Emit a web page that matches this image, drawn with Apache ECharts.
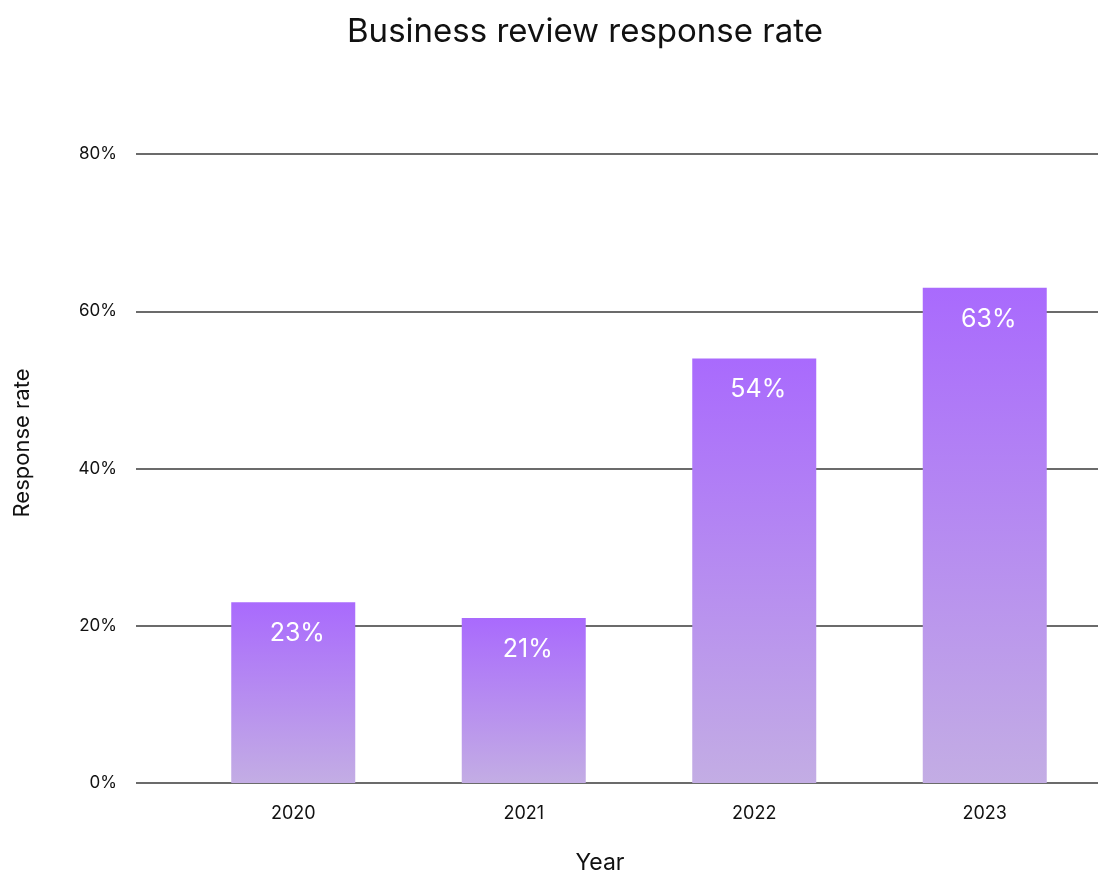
<!DOCTYPE html>
<html>
<head>
<meta charset="utf-8">
<style>
  html, body { margin: 0; padding: 0; background: #ffffff; }
  #chart { width: 1100px; height: 875px; }
</style>
<script src="https://cdn.jsdelivr.net/npm/echarts@6/dist/echarts.min.js"></script>
</head>
<body>
<div id="chart"></div>
<script>
// Response rate by year (percent)
const years = ['2020', '2021', '2022', '2023'];
const responseRates = [23, 21, 54, 63];
const yTicks = { min: 0, max: 80, interval: 20 };

const FONT = 'Inter, "Noto Sans", sans-serif';
const INK = '#111111';
const GRID_LINE = '#6b6b6b';

const barGradient = new echarts.graphic.LinearGradient(0, 0, 0, 1, [
  { offset: 0, color: '#a96afd' },
  { offset: 1, color: '#c3ade4' }
]);

const chart = echarts.init(document.getElementById('chart'), null, { renderer: 'canvas' });

chart.setOption({
  backgroundColor: '#ffffff',
  animation: false,
  title: {
    text: 'Business review response rate',
    left: 580,
    textAlign: 'center',
    top: 11,
    textStyle: { fontFamily: FONT, fontSize: 33, fontWeight: 'normal', color: INK }
  },
  grid: [
    // grid 0 carries the horizontal rules and the percent labels
    { left: 136, right: 2, top: 154, bottom: 92 },
    // grid 1 holds the bars and the year labels
    { left: 178, width: 924, top: 154, bottom: 92 }
  ],
  xAxis: [
    {
      gridIndex: 0, type: 'category', data: years, show: false
    },
    {
      gridIndex: 1, type: 'category', data: years,
      axisLine: { show: false },
      axisTick: { show: false },
      axisLabel: { color: INK, fontFamily: FONT, fontSize: 18, margin: 22 }
    }
  ],
  yAxis: [
    {
      gridIndex: 0, type: 'value',
      min: yTicks.min, max: yTicks.max, interval: yTicks.interval,
      axisLine: { show: false },
      axisTick: { show: false },
      axisLabel: { formatter: '{value}%', color: INK, fontFamily: FONT, fontSize: 17, margin: 19 },
      splitLine: { show: true, lineStyle: { color: GRID_LINE, width: 2 } }
    },
    {
      gridIndex: 1, type: 'value',
      min: yTicks.min, max: yTicks.max, interval: yTicks.interval,
      show: false,
      splitLine: { show: false }
    }
  ],
  graphic: [
    {
      type: 'text',
      x: 22, y: 443,
      rotation: Math.PI / 2,
      style: {
        text: 'Response rate',
        fontFamily: FONT, fontSize: 22, fill: INK,
        align: 'center', verticalAlign: 'middle'
      }
    },
    {
      type: 'text',
      x: 600, y: 863,
      style: {
        text: 'Year',
        fontFamily: FONT, fontSize: 23, fill: INK,
        align: 'center', verticalAlign: 'middle'
      }
    }
  ],
  series: [
    {
      type: 'bar',
      xAxisIndex: 1, yAxisIndex: 1,
      data: responseRates,
      barWidth: 124,
      itemStyle: { color: barGradient },
      label: {
        show: true,
        position: 'insideTop',
        distance: 19,
        offset: [4, 0],
        formatter: '{c}%',
        color: '#ffffff',
        fontFamily: FONT,
        fontSize: 25
      }
    }
  ]
});
</script>
</body>
</html>
